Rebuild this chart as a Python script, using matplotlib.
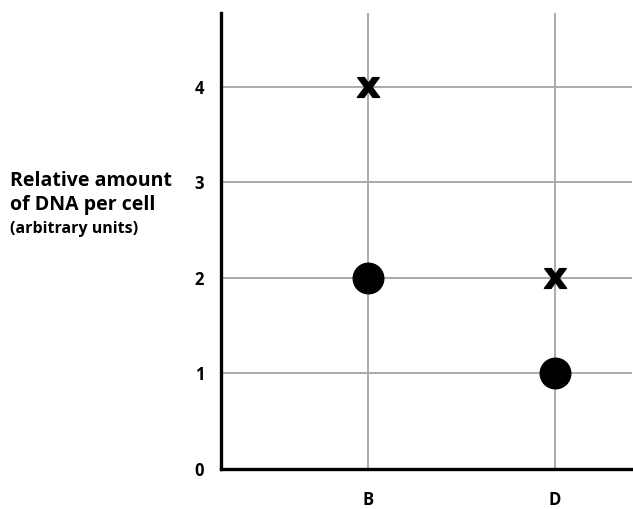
import matplotlib.pyplot as plt

# points
cells = ['B', 'D']
x_pos = [1, 2]
cross_vals = [4, 2]    # x markers
dot_vals = [2, 1]      # filled circles
y_ticks = [0, 1, 2, 3, 4]

plt.rcParams['font.family'] = ['Open Sans', 'DejaVu Sans']

fig = plt.figure(figsize=(6.33, 5.09), dpi=100)
ax = fig.add_axes([0.349, 0.0786, 0.649, 0.896])

ax.set_xlim(0.214, 2.41)
ax.set_ylim(0, 4.77)

# grid
for y in y_ticks[1:]:
    ax.axhline(y, color='#aaaaaa', lw=1.4, zorder=1)
for x in x_pos:
    ax.axvline(x, color='#aaaaaa', lw=1.4, zorder=1)

ax.scatter(x_pos, dot_vals, s=22**2, color='black', zorder=3)
ax.scatter(x_pos, cross_vals, marker=r'$\mathbf{x}$', s=16**2, color='black', zorder=3)

for s in ['top', 'right']:
    ax.spines[s].set_visible(False)
for s in ['left', 'bottom']:
    ax.spines[s].set_linewidth(2.4)
    ax.spines[s].set_color('black')

ax.set_yticks(y_ticks)
ax.set_yticklabels([str(v) for v in y_ticks], fontsize=12, fontweight='bold')
ax.set_xticks(x_pos)
ax.set_xticklabels(cells, fontsize=12, fontweight='bold')
ax.tick_params(axis='y', length=0, pad=12)
ax.tick_params(axis='x', length=0, pad=16)

fig.text(0.016, 0.621, 'Relative amount\nof DNA per cell', fontsize=14, fontweight='bold',
         ha='left', va='center', linespacing=1.3)
fig.text(0.016, 0.551, '(arbitrary units)', fontsize=11.5, fontweight='bold', ha='left', va='center')

fig.savefig('out.png', dpi=100)
